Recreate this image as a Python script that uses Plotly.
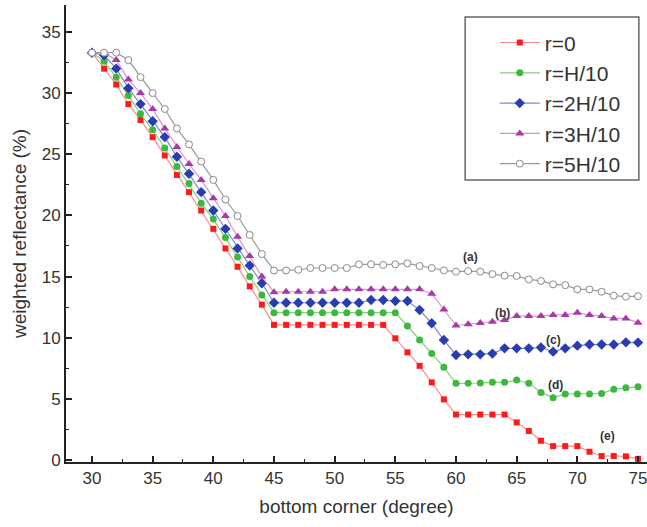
import plotly.graph_objects as go

angles = list(range(30, 76))

r0 = [33.3, 32.0, 30.7, 29.1, 27.8, 26.4, 24.9, 23.3, 21.9, 20.4,
      18.9, 17.3, 15.8, 14.2, 12.7, 11.05, 11.05, 11.05, 11.05, 11.05,
      11.05, 11.05, 11.05, 11.05, 11.05, 9.95, 8.8, 7.7, 6.35, 4.96,
      3.72, 3.72, 3.72, 3.72, 3.72, 3.08, 2.37, 1.58, 1.14, 1.14,
      1.14, 0.68, 0.33, 0.33, 0.3, 0.1]
rH10 = [33.3, 32.6, 31.3, 29.8, 28.3, 27.0, 25.5, 24.0, 22.6, 21.0,
        19.7, 18.2, 16.6, 15.0, 13.5, 12.05, 12.05, 12.05, 12.05, 12.05,
        12.05, 12.05, 12.05, 12.05, 12.05, 12.05, 10.96, 9.81, 8.72, 7.58,
        6.27, 6.27, 6.3, 6.35, 6.35, 6.54, 6.27, 5.53, 5.1, 5.4,
        5.4, 5.4, 5.45, 5.78, 5.91, 6.0]
r2H10 = [33.3, 33.1, 32.0, 30.4, 29.1, 27.7, 26.4, 24.8, 23.4, 21.9,
         20.4, 18.9, 17.3, 15.9, 14.45, 12.86, 12.86, 12.86, 12.86, 12.86,
         12.86, 12.86, 12.86, 13.08, 13.08, 13.0, 13.0, 12.26, 11.18, 9.81,
         8.59, 8.64, 8.64, 8.7, 9.13, 9.13, 9.13, 9.2, 8.86, 9.13,
         9.35, 9.44, 9.44, 9.44, 9.62, 9.6]
r3H10 = [33.3, 33.3, 32.7, 31.1, 30.0, 28.7, 27.1, 25.6, 24.2, 22.9,
         21.4, 19.95, 18.26, 16.68, 15.0, 13.72, 13.76, 13.76, 13.76, 13.76,
         13.96, 13.96, 13.96, 13.96, 13.96, 13.96, 13.96, 13.96, 13.6, 12.3,
         11.0, 11.1, 11.2, 11.3, 11.45, 11.77, 11.77, 11.77, 11.86, 11.86,
         12.05, 11.86, 11.77, 11.58, 11.58, 11.23]
r5H10 = [33.3, 33.3, 33.3, 32.7, 31.3, 30.0, 28.7, 27.1, 25.8, 24.4,
         22.9, 21.3, 19.95, 18.4, 16.84, 15.5, 15.5, 15.55, 15.7, 15.7,
         15.7, 15.7, 16.0, 16.0, 15.95, 16.0, 16.08, 15.86, 15.7, 15.5,
         15.4, 15.45, 15.4, 15.2, 15.07, 15.05, 14.77, 14.64, 14.36, 14.3,
         13.95, 13.95, 13.76, 13.44, 13.36, 13.4]

names = ["r=0", "r=H/10", "r=2H/10", "r=3H/10", "r=5H/10"]
series = [r0, rH10, r2H10, r3H10, r5H10]
line_colors = ["#ff8c8c", "#80d080", "#7f8ad8", "#d990d9", "#9a9a9a"]
marker_colors = ["#ff1a1a", "#3cb83c", "#2a3db0", "#a83aa8", "#ffffff"]
marker_lines = ["#ff1a1a", "#3cb83c", "#2a3db0", "#a83aa8", "#8a8a8a"]
symbols = ["square", "circle", "diamond", "triangle-up", "circle"]
sizes = [6, 7, 8, 8, 7]

labels_txt = ["(a)", "(b)", "(c)", "(d)", "(e)"]
labels_x = [61.2, 63.8, 68.0, 68.2, 72.5]
labels_y = [16.6, 12.0, 9.8, 6.1, 2.0]

fig = go.Figure()
for n, s, lc, mc, ml, sym, sz in zip(names, series, line_colors, marker_colors,
                                     marker_lines, symbols, sizes):
    fig.add_trace(go.Scatter(
        x=angles, y=s, name=n, mode="lines+markers",
        line=dict(color=lc, width=1.2),
        marker=dict(symbol=sym, size=sz, color=mc,
                    line=dict(color=ml, width=1 if n == "r=5H/10" else 0)),
        cliponaxis=False,
    ))

for t, xv, yv in zip(labels_txt, labels_x, labels_y):
    fig.add_annotation(x=xv, y=yv, text="<b>%s</b>" % t, showarrow=False,
                       font=dict(size=12, color="#333333",
                                 family="Liberation Sans, Arial"))

# legend frame
fig.add_shape(type="rect", xref="paper", yref="paper",
              x0=0.687, x1=0.986, y0=0.617, y1=0.974,
              line=dict(color="#666666", width=1.5), fillcolor="white",
              layer="below")

axis_common = dict(
    showline=True, linecolor="#222222", linewidth=2,
    ticks="inside", ticklen=6, tickwidth=1.5, tickcolor="#222222",
    showgrid=False, zeroline=False, ticklabeloverflow="allow",
    tickfont=dict(size=17, color="#333333", family="Liberation Sans, Arial"),
    minor=dict(ticks="inside", ticklen=3, tickwidth=1, tickcolor="#222222",
               dtick=2.5, showgrid=False),
)

fig.update_layout(
    width=647, height=527,
    margin=dict(l=66, r=0, t=5, b=65),
    paper_bgcolor="white", plot_bgcolor="white",
    font=dict(family="Liberation Sans, Arial", color="#333333"),
    xaxis=dict(range=[27.86, 75.74], dtick=5, tick0=30,
               title=dict(text="bottom corner (degree)",
                          font=dict(size=19, color="#333333"), standoff=12),
               **axis_common),
    yaxis=dict(range=[-0.16, 37.2], dtick=5, tick0=0,
               title=dict(text="weighted reflectance (%)",
                          font=dict(size=19, color="#333333"), standoff=10),
               **axis_common),
    legend=dict(x=0.738, y=0.962, xanchor="left", yanchor="top",
                bgcolor="rgba(0,0,0,0)", borderwidth=0,
                font=dict(size=21, color="#333333",
                          family="Liberation Sans, Arial"),
                tracegroupgap=0, itemwidth=40),
    showlegend=True,
)

fig.write_html("out.html")
